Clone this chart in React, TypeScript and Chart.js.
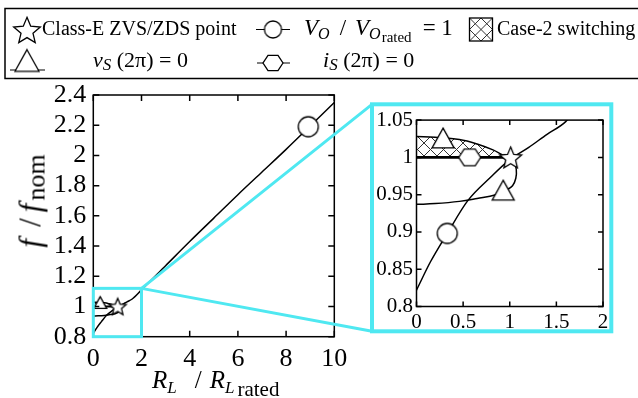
import React, { useEffect, useRef } from 'react';
import { Chart, registerables } from 'chart.js';

Chart.register(...registerables);

// ---------------- data ----------------
const mainCurveX = [0, 0.15, 0.33, 0.55, 0.8, 1.0, 1.2, 1.4, 1.6, 2, 3, 4, 5, 6, 7, 8, 9, 10];
const mainCurveY = [0.822, 0.86, 0.898, 0.942, 0.974, 0.997, 1.013, 1.031, 1.048, 1.11, 1.27, 1.43, 1.585, 1.74, 1.89, 2.04, 2.195, 2.35];

const upperBranchX = [0, 0.2, 0.46, 0.65, 0.82, 0.93, 1.0];
const upperBranchY = [1.028, 1.027, 1.024, 1.018, 1.01, 1.003, 1.0];
const loopRestX = [1.045, 1.07, 1.065, 1.03, 0.96, 0.85, 0.65, 0.46, 0.2, 0];
const loopRestY = [0.994, 0.984, 0.972, 0.962, 0.956, 0.95, 0.945, 0.941, 0.938, 0.937];

const case2LineX = [0, 1.0];
const case2LineY = [1.0, 1.0];

const starX = [1.01];
const starY = [1.0];
const triX = [0.285, 0.93];
const triY = [1.026, 0.956];
const circX = [0.33, 8.92];
const circY = [0.898, 2.19];
const hexX = [0.57];
const hexY = [1.0];

const mainXTicks = [0, 2, 4, 6, 8, 10];
const mainYTicks = [0.8, 1, 1.2, 1.4, 1.6, 1.8, 2, 2.2, 2.4];
const insetXTicks = [0, 0.5, 1, 1.5, 2];
const insetYTicks = [0.8, 0.85, 0.9, 0.95, 1, 1.05];
const zoomBoxX = [0, 2];
const zoomBoxY = [0.8, 1.12];

// ---------------- helpers ----------------
const SERIF = "'Liberation Serif', 'Times New Roman', serif";
const CYAN = '#4fe8f1';
const pts = (xs: number[], ys: number[]) => xs.map((x, i) => ({ x, y: ys[i] }));
const fmt = (v: any) => String(parseFloat(Number(v).toFixed(3)));

function makeMarker(kind: string, r: number, lw = 1.3): HTMLCanvasElement {
  const size = Math.ceil(2 * r + 2 * lw + 3);
  const c = document.createElement('canvas');
  c.width = size;
  c.height = size;
  const ctx = c.getContext('2d')!;
  const cx = size / 2;
  const cy = size / 2;
  ctx.beginPath();
  if (kind === 'circle') {
    ctx.arc(cx, cy, r, 0, Math.PI * 2);
  } else if (kind === 'star') {
    for (let i = 0; i < 10; i++) {
      const rr = i % 2 === 0 ? r : r * 0.45;
      const a = -Math.PI / 2 + (i * Math.PI) / 5;
      const px = cx + rr * Math.cos(a);
      const py = cy + rr * Math.sin(a) + r * 0.095;
      if (i === 0) ctx.moveTo(px, py);
      else ctx.lineTo(px, py);
    }
    ctx.closePath();
  } else if (kind === 'triangle') {
    const w = 2 * r;
    const h = 1.8 * r;
    ctx.moveTo(cx, cy - h / 2);
    ctx.lineTo(cx + w / 2, cy + h / 2);
    ctx.lineTo(cx - w / 2, cy + h / 2);
    ctx.closePath();
  } else if (kind === 'hexagon') {
    for (let i = 0; i < 6; i++) {
      const a = (i * Math.PI) / 3;
      const px = cx + r * Math.cos(a);
      const py = cy + r * Math.sin(a) * 0.88;
      if (i === 0) ctx.moveTo(px, py);
      else ctx.lineTo(px, py);
    }
    ctx.closePath();
  }
  ctx.fillStyle = '#fff';
  ctx.fill();
  ctx.lineWidth = lw;
  ctx.strokeStyle = '#000';
  ctx.stroke();
  return c;
}

function makeHatch(target: CanvasRenderingContext2D): CanvasPattern {
  const s = 13;
  const c = document.createElement('canvas');
  c.width = s;
  c.height = s;
  const ctx = c.getContext('2d')!;
  ctx.fillStyle = '#fff';
  ctx.fillRect(0, 0, s, s);
  ctx.strokeStyle = '#333';
  ctx.lineWidth = 1;
  ctx.beginPath();
  ctx.moveTo(-1, -1);
  ctx.lineTo(s + 1, s + 1);
  ctx.moveTo(s + 1, -1);
  ctx.lineTo(-1, s + 1);
  ctx.stroke();
  return target.createPattern(c, 'repeat')!;
}

function frameAndTicks(chart: any, xTicks: number[], yTicks: number[], len: number, lw: number) {
  const { ctx, chartArea: a, scales } = chart;
  ctx.save();
  ctx.strokeStyle = '#000';
  ctx.lineWidth = lw;
  ctx.beginPath();
  for (const v of xTicks) {
    const px = scales.x.getPixelForValue(v);
    ctx.moveTo(px, a.bottom);
    ctx.lineTo(px, a.bottom - len);
    ctx.moveTo(px, a.top);
    ctx.lineTo(px, a.top + len);
  }
  for (const v of yTicks) {
    const py = scales.y.getPixelForValue(v);
    ctx.moveTo(a.left, py);
    ctx.lineTo(a.left + len, py);
    ctx.moveTo(a.right, py);
    ctx.lineTo(a.right - len, py);
  }
  ctx.stroke();
  ctx.strokeRect(a.left, a.top, a.right - a.left, a.bottom - a.top);
  ctx.restore();
}

function buildDatasets(ctx: CanvasRenderingContext2D, inset: boolean) {
  const lw = 1.5;
  const markers = inset
    ? {
        star: makeMarker('star', 11.5),
        tri: makeMarker('triangle', 11),
        circ: makeMarker('circle', 10),
        hex: makeMarker('hexagon', 11),
      }
    : {
        star: makeMarker('star', 9),
        tri: makeMarker('triangle', 6.5),
        circ: makeMarker('circle', 10),
        hex: makeMarker('hexagon', 6),
      };
  const line = (data: any[], extra: any = {}) => ({
    data,
    borderColor: '#000',
    borderWidth: lw,
    pointRadius: 0,
    fill: false,
    tension: 0.4,
    ...extra,
  });
  const marker = (data: any[], img: HTMLCanvasElement, order: number) => ({
    data,
    showLine: false,
    pointStyle: img,
    pointRadius: 8,
    order,
    clip: false,
  });
  const ds: any[] = [
    line(pts(upperBranchX, upperBranchY), {
      borderWidth: 0,
      fill: { value: 1 },
      backgroundColor: makeHatch(ctx),
      order: 9,
    }),
    line(pts(upperBranchX, upperBranchY).concat(pts(loopRestX, loopRestY)), { order: 6 }),
    line(pts(case2LineX, case2LineY), { borderWidth: inset ? 2.6 : 2, tension: 0, order: 5 }),
    line(pts(mainCurveX, mainCurveY), { cubicInterpolationMode: 'monotone', order: 4 }),
  ];
  if (inset) {
    ds.push(marker(pts(circX, circY), markers.circ, 2));
    ds.push(marker(pts(hexX, hexY), markers.hex, 2));
    ds.push(marker(pts(triX, triY), markers.tri, 1));
    ds.push(marker(pts(starX, starY), markers.star, 0));
  } else {
    ds.push(marker(pts(circX, circY).filter((p) => p.x > 2), markers.circ, 2));
    ds.push(marker(pts(triX, triY).slice(0, 1), markers.tri, 1));
    ds.push(marker(pts(starX, starY), markers.star, 0));
  }
  return ds;
}

function scaleOpts(min: number, max: number, ticks: number[], size: number, padding: number, fit: (s: any) => void) {
  return {
    type: 'linear',
    min,
    max,
    grid: { display: false, drawTicks: false },
    border: { display: false },
    ticks: {
      font: { family: SERIF, size },
      color: '#000',
      padding,
      autoSkip: false,
      maxRotation: 0,
      minRotation: 0,
      callback: fmt,
    },
    afterBuildTicks: (s: any) => {
      s.ticks = ticks.map((v) => ({ value: v }));
    },
    afterFit: fit,
  };
}

// inset frame in page pixels (layout)
const FRAME = { left: 372, top: 104.3, right: 611.3, bottom: 331.3 };

export default function App() {
  const mainRef = useRef<HTMLCanvasElement>(null);
  const insetRef = useRef<HTMLCanvasElement>(null);

  useEffect(() => {
    const mctx = mainRef.current!.getContext('2d')!;
    const ictx = insetRef.current!.getContext('2d')!;
    const legendMarks = {
      star: makeMarker('star', 14),
      tri: makeMarker('triangle', 12),
      circ: makeMarker('circle', 8.5),
      hex: makeMarker('hexagon', 10),
    };

    const mainPlugin = {
      id: 'mainDecor',
      afterDraw(chart: any) {
        frameAndTicks(chart, mainXTicks, mainYTicks, 6, 1.5);
        const { ctx, scales } = chart;
        const x0 = scales.x.getPixelForValue(zoomBoxX[0]);
        const x1 = scales.x.getPixelForValue(zoomBoxX[1]);
        const y0 = scales.y.getPixelForValue(zoomBoxY[0]);
        const y1 = scales.y.getPixelForValue(zoomBoxY[1]);
        ctx.save();
        ctx.strokeStyle = CYAN;
        ctx.lineWidth = 3;
        ctx.strokeRect(x0, y1, x1 - x0, y0 - y1);
        ctx.beginPath();
        ctx.moveTo(x1, y1);
        ctx.lineTo(FRAME.left, FRAME.top);
        ctx.moveTo(x1, y1);
        ctx.lineTo(FRAME.left, FRAME.bottom);
        ctx.stroke();
        ctx.lineWidth = 4;
        ctx.strokeRect(FRAME.left, FRAME.top, FRAME.right - FRAME.left, FRAME.bottom - FRAME.top);
        ctx.restore();

        // legend frame & symbols
        ctx.save();
        ctx.strokeStyle = '#000';
        ctx.lineWidth = 1.5;
        ctx.strokeRect(5, 8.5, 640, 70);
        ctx.lineWidth = 1.2;
        ctx.beginPath();
        ctx.moveTo(10, 70);
        ctx.lineTo(45, 70);
        ctx.moveTo(256, 29.5);
        ctx.lineTo(290, 29.5);
        ctx.moveTo(257, 63);
        ctx.lineTo(290, 63);
        ctx.stroke();
        const put = (img: HTMLCanvasElement, x: number, y: number) =>
          ctx.drawImage(img, x - img.width / 2, y - img.height / 2);
        put(legendMarks.star, 27, 30);
        put(legendMarks.tri, 27, 60.5);
        put(legendMarks.circ, 273, 29.5);
        put(legendMarks.hex, 273, 63);
        // hatched legend box
        const bx = 469.5, by = 18, bs = 23;
        ctx.fillStyle = '#fff';
        ctx.fillRect(bx, by, bs, bs);
        ctx.strokeStyle = '#333';
        ctx.lineWidth = 1;
        ctx.beginPath();
        ctx.moveTo(bx, by);
        ctx.lineTo(bx + bs, by + bs);
        ctx.moveTo(bx + bs, by);
        ctx.lineTo(bx, by + bs);
        ctx.moveTo(bx + bs / 2, by);
        ctx.lineTo(bx + bs, by + bs / 2);
        ctx.lineTo(bx + bs / 2, by + bs);
        ctx.lineTo(bx, by + bs / 2);
        ctx.closePath();
        ctx.stroke();
        ctx.strokeStyle = '#000';
        ctx.lineWidth = 1.3;
        ctx.strokeRect(bx, by, bs, bs);
        ctx.restore();
      },
    };

    const insetPlugin = {
      id: 'insetDecor',
      afterDraw(chart: any) {
        frameAndTicks(chart, insetXTicks, insetYTicks, 5, 1.5);
      },
    };

    const mainChart = new Chart(mctx, {
      type: 'line',
      data: { datasets: buildDatasets(mctx, false) },
      options: {
        animation: false,
        responsive: false,
        devicePixelRatio: 1,
        events: [],
        layout: { padding: { left: 0, top: 95, right: 303.7, bottom: 0 } },
        plugins: { legend: { display: false }, tooltip: { enabled: false } },
        scales: {
          x: scaleOpts(0, 10, mainXTicks, 26, 7, (s: any) => {
            s.height = 61.3;
          }),
          y: scaleOpts(0.8, 2.4, mainYTicks, 26, 7, (s: any) => {
            s.width = 93.3;
          }),
        },
      } as any,
      plugins: [mainPlugin],
    } as any);

    const insetChart = new Chart(ictx, {
      type: 'line',
      data: { datasets: buildDatasets(ictx, true) },
      options: {
        animation: false,
        responsive: false,
        devicePixelRatio: 1,
        events: [],
        layout: { padding: { left: 0, top: 14, right: 7.5, bottom: 0 } },
        plugins: { legend: { display: false }, tooltip: { enabled: false } },
        scales: {
          x: scaleOpts(0, 2, insetXTicks, 21, 3, (s: any) => {
            s.height = 27.5;
          }),
          y: scaleOpts(0.8, 1.05, insetYTicks, 21, 3.5, (s: any) => {
            s.width = 44.5;
          }),
        },
      } as any,
      plugins: [insetPlugin],
    } as any);

    return () => {
      mainChart.destroy();
      insetChart.destroy();
    };
  }, []);

  const abs = (left: number, top: number, fontSize: number, extra: any = {}): React.CSSProperties => ({
    position: 'absolute',
    left,
    top,
    fontSize,
    lineHeight: 1,
    fontFamily: SERIF,
    whiteSpace: 'nowrap',
    color: '#000',
    ...extra,
  });
  const sub = (fontSize: number, dy: number, italic = true, extra: any = {}): React.CSSProperties => ({
    fontSize,
    position: 'relative',
    top: dy,
    fontStyle: italic ? 'italic' : 'normal',
    ...extra,
  });

  return (
    <div
      style={{
        position: 'fixed',
        left: 0,
        top: 0,
        width: 638,
        height: 398,
        background: '#fff',
        overflow: 'hidden',
      }}
    >
      <canvas
        ref={mainRef}
        width={638}
        height={398}
        style={{ position: 'absolute', left: 0, top: 0, width: 638, height: 398 }}
      />
      <canvas
        ref={insetRef}
        width={240}
        height={230}
        style={{ position: 'absolute', left: 372, top: 104, width: 240, height: 230 }}
      />

      {/* legend texts */}
      <div style={abs(42, 18, 20)}>Class-E ZVS/ZDS point</div>
      <div style={abs(304, 16, 23)}>
        <i>V</i>
        <span style={sub(16, 4)}>O</span>
        <span style={{ margin: '0 9px 0 10px' }}>/</span>
        <i>V</i>
        <span style={sub(16, 4)}>
          O<span style={sub(15, 3, false, { marginLeft: 1 })}>rated</span>
        </span>
        <span style={{ marginLeft: 11 }}>=&nbsp;1</span>
      </div>
      <div style={abs(497, 18, 20)}>Case-2 switching</div>
      <div style={abs(93, 49, 22)}>
        <i>v</i>
        <span style={sub(17, 3)}>S</span>
        {'\u00a0(2π)\u00a0=\u00a00'}
      </div>
      <div style={abs(323, 49, 22)}>
        <i>i</i>
        <span style={sub(17, 3)}>S</span>
        {'\u00a0(2π)\u00a0=\u00a00'}
      </div>

      {/* axis titles */}
      <div style={abs(152, 367, 25)}>
        <i>R</i>
        <span style={sub(17, 5)}>L</span>
        <span style={{ margin: '0 8px 0 18px' }}>/</span>
        <i>R</i>
        <span style={sub(17, 5)}>
          L<span style={sub(21, 3, false, { marginLeft: 3 })}>rated</span>
        </span>
      </div>
      <div
        style={abs(30, 200.5, 31, {
          transform: 'translate(-50%, -50%) rotate(-90deg)',
        })}
      >
        <i>f</i>
        <span style={{ margin: '0 6px 0 12px' }}>/</span>
        <i>f</i>
        <span style={sub(26, 4, false, { marginLeft: 3 })}>nom</span>
      </div>
    </div>
  );
}
